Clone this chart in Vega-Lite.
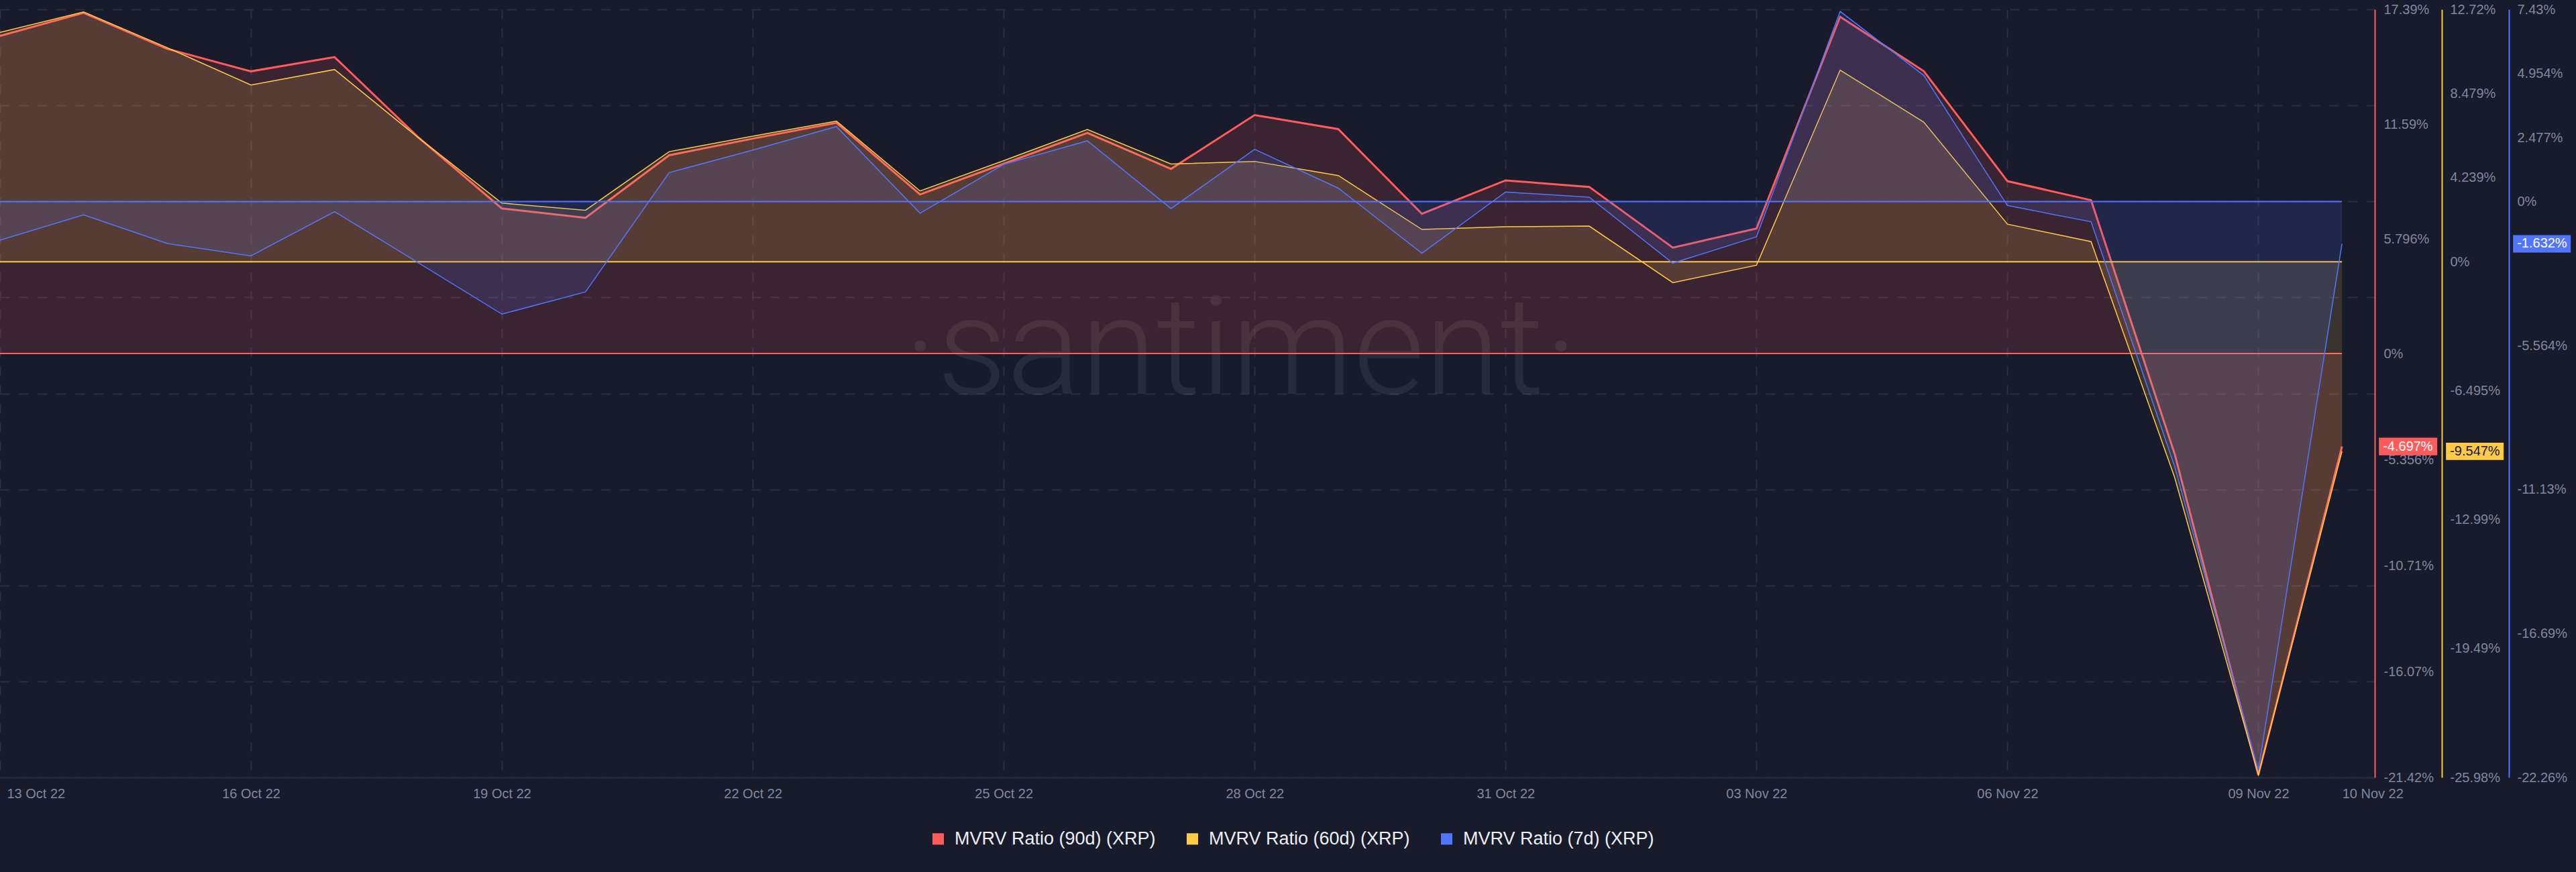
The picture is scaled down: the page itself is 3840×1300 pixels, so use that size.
{
  "$schema": "https://vega.github.io/schema/vega-lite/v6.json",
  "width": 3540,
  "height": 1145,
  "autosize": {"type": "none"},
  "padding": {"left": 0, "top": 14, "right": 300, "bottom": 141},
  "background": "#181b2b",
  "config": {"view": {"stroke": null}, "font": "Liberation Sans"},
  "data": {
    "values": [
      {"date": "2022-10-13", "mvrv90": 16.05, "mvrv60": 11.56, "mvrv7": -1.49},
      {"date": "2022-10-14", "mvrv90": 17.22, "mvrv60": 12.59, "mvrv7": -0.51},
      {"date": "2022-10-15", "mvrv90": 15.40, "mvrv60": 10.79, "mvrv7": -1.62},
      {"date": "2022-10-16", "mvrv90": 14.26, "mvrv60": 8.91, "mvrv7": -2.10},
      {"date": "2022-10-17", "mvrv90": 14.98, "mvrv60": 9.69, "mvrv7": -0.39},
      {"date": "2022-10-18", "mvrv90": 10.93, "mvrv60": 6.26, "mvrv7": -2.36},
      {"date": "2022-10-19", "mvrv90": 7.33, "mvrv60": 2.96, "mvrv7": -4.35},
      {"date": "2022-10-20", "mvrv90": 6.86, "mvrv60": 2.60, "mvrv7": -3.49},
      {"date": "2022-10-21", "mvrv90": 10.02, "mvrv60": 5.55, "mvrv7": 1.12},
      {"date": "2022-10-22", "mvrv90": 10.86, "mvrv60": 6.33, "mvrv7": 1.99},
      {"date": "2022-10-23", "mvrv90": 11.66, "mvrv60": 7.09, "mvrv7": 2.90},
      {"date": "2022-10-24", "mvrv90": 8.04, "mvrv60": 3.57, "mvrv7": -0.45},
      {"date": "2022-10-25", "mvrv90": 9.59, "mvrv60": 5.10, "mvrv7": 1.44},
      {"date": "2022-10-26", "mvrv90": 11.15, "mvrv60": 6.67, "mvrv7": 2.35},
      {"date": "2022-10-27", "mvrv90": 9.33, "mvrv60": 4.93, "mvrv7": -0.27},
      {"date": "2022-10-28", "mvrv90": 12.05, "mvrv60": 5.06, "mvrv7": 2.02},
      {"date": "2022-10-29", "mvrv90": 11.34, "mvrv60": 4.35, "mvrv7": 0.52},
      {"date": "2022-10-30", "mvrv90": 7.06, "mvrv60": 1.63, "mvrv7": -2.00},
      {"date": "2022-10-31", "mvrv90": 8.75, "mvrv60": 1.77, "mvrv7": 0.37},
      {"date": "2022-11-01", "mvrv90": 8.42, "mvrv60": 1.80, "mvrv7": 0.17},
      {"date": "2022-11-02", "mvrv90": 5.35, "mvrv60": -1.05, "mvrv7": -2.38},
      {"date": "2022-11-03", "mvrv90": 6.32, "mvrv60": -0.17, "mvrv7": -1.36},
      {"date": "2022-11-04", "mvrv90": 17.02, "mvrv60": 9.66, "mvrv7": 7.35},
      {"date": "2022-11-05", "mvrv90": 14.27, "mvrv60": 7.04, "mvrv7": 4.88},
      {"date": "2022-11-06", "mvrv90": 8.71, "mvrv60": 1.90, "mvrv7": -0.15},
      {"date": "2022-11-07", "mvrv90": 7.75, "mvrv60": 1.02, "mvrv7": -0.78},
      {"date": "2022-11-08", "mvrv90": -5.08, "mvrv60": -10.87, "mvrv7": -10.25},
      {"date": "2022-11-09", "mvrv90": -21.3, "mvrv60": -25.85, "mvrv7": -21.98},
      {"date": "2022-11-10", "mvrv90": -4.697, "mvrv60": -9.547, "mvrv7": -1.632}
    ]
  },
  "encoding": {
    "x": {
      "field": "date",
      "type": "temporal",
      "title": null,
      "scale": {
        "type": "utc",
        "domain": [
          {"year": 2022, "month": 10, "date": 13, "utc": true},
          {"year": 2022, "month": 11, "date": 10, "hours": 9, "minutes": 24, "utc": true}
        ]
      },
      "axis": {
        "values": [
          {"year": 2022, "month": 10, "date": 13, "utc": true},
          {"year": 2022, "month": 10, "date": 16, "utc": true},
          {"year": 2022, "month": 10, "date": 19, "utc": true},
          {"year": 2022, "month": 10, "date": 22, "utc": true},
          {"year": 2022, "month": 10, "date": 25, "utc": true},
          {"year": 2022, "month": 10, "date": 28, "utc": true},
          {"year": 2022, "month": 10, "date": 31, "utc": true},
          {"year": 2022, "month": 11, "date": 3, "utc": true},
          {"year": 2022, "month": 11, "date": 6, "utc": true},
          {"year": 2022, "month": 11, "date": 9, "utc": true},
          {"year": 2022, "month": 11, "date": 10, "utc": true}
        ],
        "format": "%d %b %y",
        "labelFontSize": 20,
        "labelColor": "#7f889e",
        "labelPadding": 14,
        "labelBaseline": "top",
        "labelOverlap": false,
        "labelFlush": false,
        "labelAlign": {"condition": {"test": "datum.index == 0 || datum.index == 1", "value": "left"}, "value": "center"},
        "labelOffset": {"condition": {"test": "datum.index == 0", "value": 10}, "value": 0},
        "ticks": false,
        "grid": true,
        "gridDash": [14, 14],
        "gridColor": "#2a2e42",
        "gridWidth": 2,
        "gridOpacity": {"condition": {"test": "datum.index == 1", "value": 0}, "value": 1},
        "domainColor": "#262a3d",
        "domainWidth": 2
      }
    }
  },
  "layer": [
    {
      "transform": [{"filter": {"field": "date", "equal": {"year": 2022, "month": 10, "date": 27, "utc": true}}}],
      "mark": {"type": "text", "text": "·santiment·", "font": "Roboto", "fontWeight": 300, "fontSize": 205, "fill": "#ffffff", "fillOpacity": 0.07, "align": "center", "baseline": "alphabetic", "xOffset": 104},
      "encoding": {
        "y": {
          "datum": 4,
          "type": "quantitative",
          "scale": {"domain": [0, 8], "nice": false, "zero": false},
          "axis": {"orient": "left", "values": [0, 1, 2, 3, 4, 5, 6, 7, 8], "grid": true, "gridDash": [14, 14], "gridColor": "#2a2e42", "gridWidth": 2, "labels": false, "ticks": false, "domain": false, "title": null}
        }
      }
    },
    {
      "layer": [
        {
          "mark": {"type": "area", "color": "#ff5b5b", "fillOpacity": 0.15},
          "encoding": {
            "y": {
              "field": "mvrv90",
              "type": "quantitative",
              "title": null,
              "scale": {"domain": [-21.42, 17.39], "nice": false, "zero": false},
              "axis": {"orient": "right", "offset": 0, "values": [-21.42, -16.07, -10.71, -5.356, 0, 5.796, 11.59, 17.39], "labelExpr": "toString(datum.value) + '%'", "ticks": false, "grid": false, "domainColor": "#ff5b5b", "domainWidth": 2, "labelColor": "#7f889e", "labelFontSize": 20, "labelPadding": 13, "labelAlign": "left", "labelBaseline": "middle", "labelOverlap": false, "labelFlush": false, "title": null}
            }
          }
        },
        {
          "mark": {"type": "line", "color": "#ff5b5b", "strokeWidth": 2},
          "encoding": {"y": {"datum": 0, "type": "quantitative"}}
        },
        {
          "mark": {"type": "line", "color": "#ff5b5b", "strokeWidth": 3},
          "encoding": {"y": {"field": "mvrv90", "type": "quantitative"}}
        },
        {
          "transform": [{"filter": {"field": "date", "equal": {"year": 2022, "month": 11, "date": 10, "utc": true}}}],
          "mark": {"type": "point", "shape": "M-1,-0.3H1V0.3H-1Z", "size": 7569, "filled": true, "opacity": 1, "xOffset": 98.5},
          "encoding": {
            "y": {"field": "mvrv90", "type": "quantitative"},
            "color": {
              "datum": "MVRV Ratio (90d) (XRP)",
              "scale": {"domain": ["MVRV Ratio (90d) (XRP)", "MVRV Ratio (60d) (XRP)", "MVRV Ratio (7d) (XRP)"], "range": ["#ff5b5b", "#ffcb47", "#5275ff"]},
              "legend": {"orient": "none", "legendX": 1385, "legendY": 1223, "direction": "horizontal", "title": null, "symbolType": "square", "symbolSize": 289, "symbolStrokeWidth": 0, "labelFontSize": 27, "labelColor": "#eceef2", "columnPadding": 41, "labelOffset": 11, "padding": 0, "labelLimit": 600}
            }
          }
        },
        {
          "transform": [{"filter": {"field": "date", "equal": {"year": 2022, "month": 11, "date": 10, "utc": true}}}],
          "mark": {"type": "text", "text": "-4.697%", "xOffset": 61, "align": "left", "baseline": "middle", "fontSize": 20, "color": "#ffffff"},
          "encoding": {"y": {"field": "mvrv90", "type": "quantitative"}}
        }
      ]
    },
    {
      "layer": [
        {
          "mark": {"type": "area", "color": "#ffcb47", "fillOpacity": 0.15},
          "encoding": {
            "y": {
              "field": "mvrv60",
              "type": "quantitative",
              "title": null,
              "scale": {"domain": [-25.98, 12.72], "nice": false, "zero": false},
              "axis": {"orient": "right", "offset": 100, "values": [-25.98, -19.49, -12.99, -6.495, 0, 4.239, 8.479, 12.72], "labelExpr": "toString(datum.value) + '%'", "ticks": false, "grid": false, "domainColor": "#ffcb47", "domainWidth": 2, "labelColor": "#7f889e", "labelFontSize": 20, "labelPadding": 12, "labelAlign": "left", "labelBaseline": "middle", "labelOverlap": false, "labelFlush": false, "title": null}
            }
          }
        },
        {
          "mark": {"type": "line", "color": "#ffcb47", "strokeWidth": 2},
          "encoding": {"y": {"datum": 0, "type": "quantitative"}}
        },
        {
          "mark": {"type": "line", "color": "#ffcb47", "strokeWidth": 1.5},
          "encoding": {"y": {"field": "mvrv60", "type": "quantitative"}}
        },
        {
          "transform": [{"filter": {"field": "date", "equal": {"year": 2022, "month": 11, "date": 10, "utc": true}}}],
          "mark": {"type": "point", "shape": "M-1,-0.3H1V0.3H-1Z", "size": 7396, "filled": true, "opacity": 1, "xOffset": 198},
          "encoding": {
            "y": {"field": "mvrv60", "type": "quantitative"},
            "color": {"datum": "MVRV Ratio (60d) (XRP)"}
          }
        },
        {
          "transform": [{"filter": {"field": "date", "equal": {"year": 2022, "month": 11, "date": 10, "utc": true}}}],
          "mark": {"type": "text", "text": "-9.547%", "xOffset": 161, "align": "left", "baseline": "middle", "fontSize": 20, "color": "#15171f"},
          "encoding": {"y": {"field": "mvrv60", "type": "quantitative"}}
        }
      ]
    },
    {
      "layer": [
        {
          "mark": {"type": "area", "color": "#5275ff", "fillOpacity": 0.15},
          "encoding": {
            "y": {
              "field": "mvrv7",
              "type": "quantitative",
              "title": null,
              "scale": {"domain": [-22.26, 7.43], "nice": false, "zero": false},
              "axis": {"orient": "right", "offset": 200, "values": [-22.26, -16.69, -11.13, -5.564, 0, 2.477, 4.954, 7.43], "labelExpr": "toString(datum.value) + '%'", "ticks": false, "grid": false, "domainColor": "#5275ff", "domainWidth": 2, "labelColor": "#7f889e", "labelFontSize": 20, "labelPadding": 12, "labelAlign": "left", "labelBaseline": "middle", "labelOverlap": false, "labelFlush": false, "title": null}
            }
          }
        },
        {
          "mark": {"type": "line", "color": "#5275ff", "strokeWidth": 2},
          "encoding": {"y": {"datum": 0, "type": "quantitative"}}
        },
        {
          "mark": {"type": "line", "color": "#5275ff", "strokeWidth": 1.5},
          "encoding": {"y": {"field": "mvrv7", "type": "quantitative"}}
        },
        {
          "transform": [{"filter": {"field": "date", "equal": {"year": 2022, "month": 11, "date": 10, "utc": true}}}],
          "mark": {"type": "point", "shape": "M-1,-0.3H1V0.3H-1Z", "size": 7396, "filled": true, "opacity": 1, "xOffset": 298},
          "encoding": {
            "y": {"field": "mvrv7", "type": "quantitative"},
            "color": {"datum": "MVRV Ratio (7d) (XRP)"}
          }
        },
        {
          "transform": [{"filter": {"field": "date", "equal": {"year": 2022, "month": 11, "date": 10, "utc": true}}}],
          "mark": {"type": "text", "text": "-1.632%", "xOffset": 261, "align": "left", "baseline": "middle", "fontSize": 20, "color": "#ffffff"},
          "encoding": {"y": {"field": "mvrv7", "type": "quantitative"}}
        }
      ]
    }
  ],
  "resolve": {"scale": {"y": "independent"}, "axis": {"y": "independent"}}
}
